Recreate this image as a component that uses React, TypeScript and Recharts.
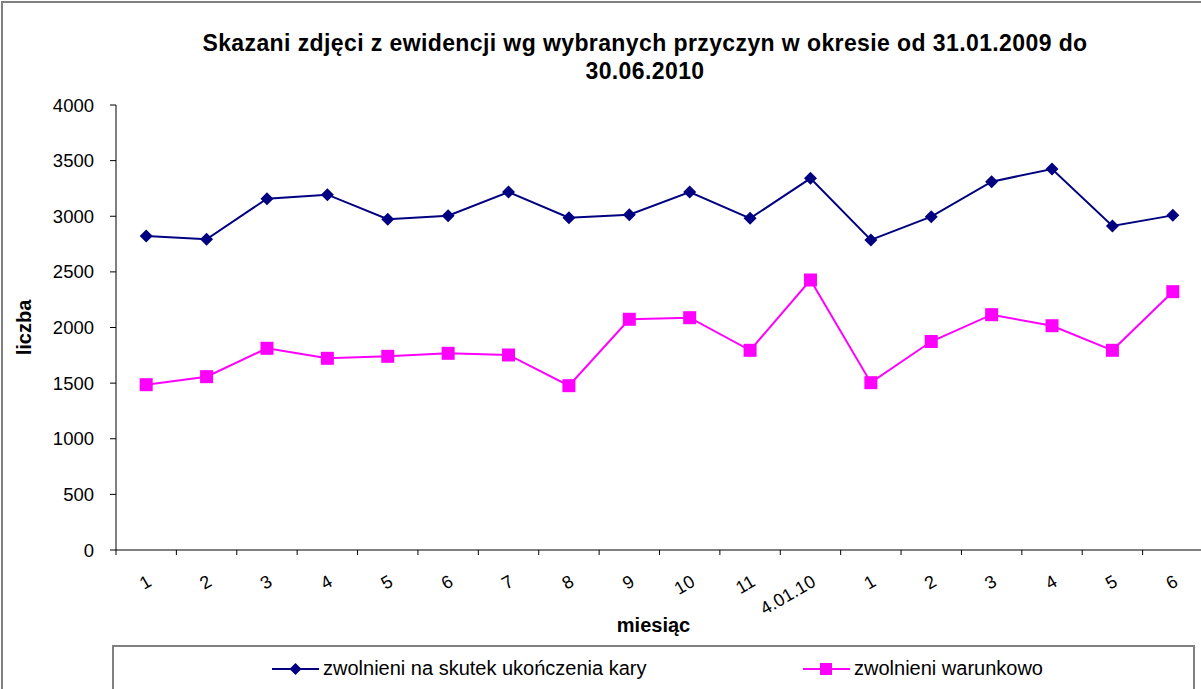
import React from "react";
import { LineChart, Line, XAxis, YAxis, Label } from "recharts";

const months = ["1", "2", "3", "4", "5", "6", "7", "8", "9", "10", "11", "4.01.10", "1", "2", "3", "4", "5", "6"];
const endOfSentence = [2822, 2793, 3158, 3194, 2973, 3005, 3218, 2987, 3014, 3218, 2981, 3341, 2787, 2996, 3311, 3425, 2912, 3008];
const parole = [1486, 1558, 1813, 1723, 1741, 1768, 1753, 1477, 2074, 2088, 1795, 2427, 1504, 1874, 2115, 2016, 1795, 2322];
const yTicks = [0, 500, 1000, 1500, 2000, 2500, 3000, 3500, 4000];

const seriesNames = {
  kara: "zwolnieni na skutek ukończenia kary",
  warunkowo: "zwolnieni warunkowo",
};

const data = months.map((m, i) => ({
  idx: i,
  month: m,
  kara: endOfSentence[i],
  warunkowo: parole[i],
}));

const font = "'Liberation Sans', Arial, sans-serif";
const NAVY = "#000080";
const PINK = "#FF00FF";

const Diamond = (props: any) => {
  const { cx, cy } = props;
  if (cx == null || cy == null) return null;
  const r = 6.5;
  return <polygon points={`${cx},${cy - r} ${cx + r},${cy} ${cx},${cy + r} ${cx - r},${cy}`} fill={NAVY} />;
};

const Square = (props: any) => {
  const { cx, cy } = props;
  if (cx == null || cy == null) return null;
  const s = 13;
  return <rect x={cx - s / 2} y={cy - s / 2} width={s} height={s} fill={PINK} />;
};

// label centred in the month slot, tick marks on the slot boundaries (Excel style)
const MonthTick = (props: any) => {
  const { x, y, payload, index } = props;
  const label = months[payload.value];
  const half = payload.offset ?? 0;
  const last = index === months.length - 1;
  return (
    <g>
      <line x1={x - half} y1={y - 5} x2={x - half} y2={y} stroke="#000" />
      {last && <line x1={x + half} y1={y - 5} x2={x + half} y2={y} stroke="#000" />}
      <g transform={`translate(${x + 4},${y + 26})`}>
        <text textAnchor="end" dominantBaseline="middle" transform="rotate(-30)" fontSize={18} fontFamily={font} fill="#000">
          {label}
        </text>
      </g>
    </g>
  );
};

const LegendItem = ({ color, square, left, name }: { color: string; square?: boolean; left: number; name: string }) => (
  <div style={{ position: "absolute", left, top: 10, display: "flex", alignItems: "center" }}>
    <svg width={47} height={14}>
      <line x1={0} y1={7} x2={47} y2={7} stroke={color} strokeWidth={2} />
      {square ? <rect x={17} y={1} width={12} height={12} fill={color} /> : <polygon points="23.5,1 29.5,7 23.5,13 17.5,7" fill={color} />}
    </svg>
    <span style={{ marginLeft: 4 }}>{name}</span>
  </div>
);

export default function App() {
  return (
    <div style={{ position: "absolute", left: 0, top: 0, width: 1201, height: 689, overflow: "hidden", background: "#fff" }}>
      <div style={{ position: "absolute", left: 1, top: 1, width: 1300, height: 800, borderTop: "2px solid #808080", borderLeft: "2px solid #808080" }} />
      <div
        style={{
          position: "absolute",
          left: 0,
          top: 29,
          width: 1290,
          textAlign: "center",
          fontFamily: font,
          fontWeight: "bold",
          fontSize: 23,
          letterSpacing: 0.4,
          lineHeight: "28px",
        }}
      >
        Skazani zdjęci z ewidencji wg wybranych przyczyn w okresie od 31.01.2009 do
        <br />
        30.06.2010
      </div>
      <LineChart
        width={1203}
        height={689}
        data={data}
        margin={{ top: 105, right: 0, bottom: 0, left: 0 }}
        style={{ position: "absolute", left: 0, top: 0 }}
      >
        <XAxis
          dataKey="idx"
          type="category"
          scale="band"
          interval={0}
          tick={<MonthTick />}
          tickLine={false}
          tickSize={5}
          tickMargin={0}
          axisLine={{ stroke: "#000" }}
          height={139}
        >
          <Label value="miesiąc" position="insideTop" offset={68} dx={-6} fontSize={20} fontWeight="bold" fontFamily={font} fill="#000" />
        </XAxis>
        <YAxis
          domain={[0, 4000]}
          ticks={yTicks}
          interval={0}
          width={116}
          tickSize={6}
          tickMargin={16}
          stroke="#000"
          tick={{ fontSize: 18.5, fontFamily: font, fill: "#000" }}
        >
          <Label value="liczba" angle={-90} position="insideLeft" offset={24} fontSize={20} fontWeight="bold" fontFamily={font} fill="#000" style={{ textAnchor: "middle" }} />
        </YAxis>
        <Line dataKey="kara" name={seriesNames.kara} stroke={NAVY} strokeWidth={2} dot={<Diamond />} activeDot={false} isAnimationActive={false} />
        <Line dataKey="warunkowo" name={seriesNames.warunkowo} stroke={PINK} strokeWidth={2} dot={<Square />} activeDot={false} isAnimationActive={false} />
      </LineChart>
      <div
        style={{
          position: "absolute",
          left: 112,
          top: 645,
          width: 1083,
          height: 60,
          border: "2px solid #808080",
          boxSizing: "border-box",
          background: "#fff",
          fontFamily: font,
          fontSize: 20,
        }}
      >
        <LegendItem color={NAVY} left={158} name={seriesNames.kara} />
        <LegendItem color={PINK} square left={689} name={seriesNames.warunkowo} />
      </div>
    </div>
  );
}
